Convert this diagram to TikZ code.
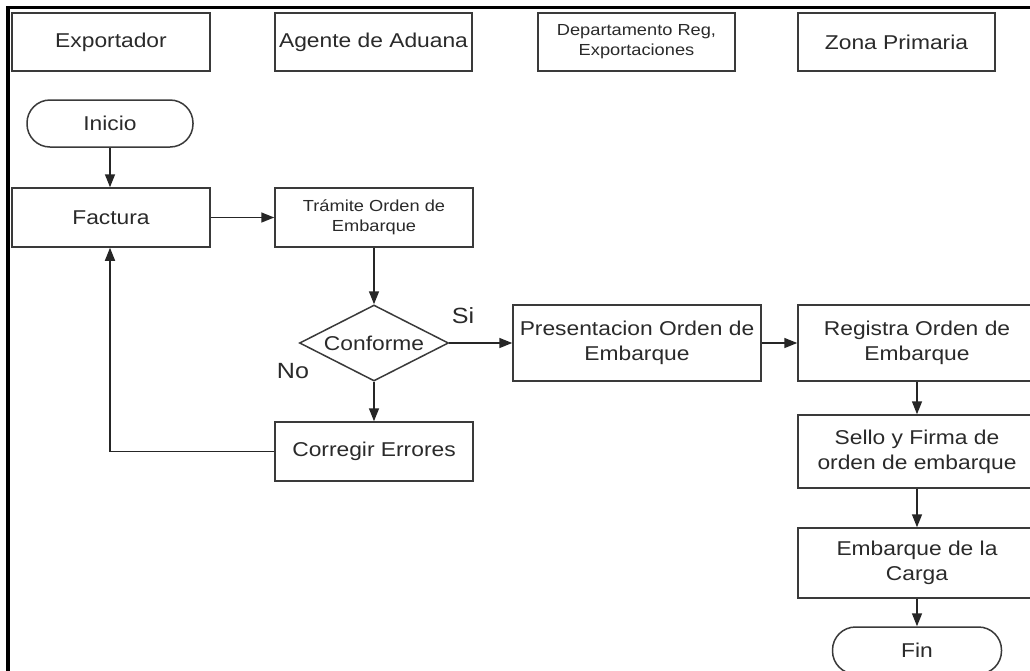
\documentclass[tikz,border=0pt]{standalone}
\usepackage{fontspec}
\setmainfont{Liberation Sans}[FakeStretch=1.14]
\usetikzlibrary{arrows.meta,shapes.geometric}
\newcommand\fsbig{\fontsize{20}{25}\selectfont}
\newcommand\fssmall{\fontsize{16}{20}\selectfont}
\newcommand\fslabel{\fontsize{22}{26}\selectfont}
\definecolor{edgegray}{HTML}{3A3A3A}
\definecolor{textgray}{HTML}{2A2A2A}
\begin{document}
\begin{tikzpicture}[x=1pt,y=-1pt,
  box/.style={draw=edgegray, line width=1.5pt, fill=white, inner sep=0pt,
    align=center, text=textgray, font=\fsbig},
  pill/.style={box, rounded corners=23pt},
  decision/.style={box, diamond, aspect=2},
  flow/.style={draw=black!85, line width=1.5pt, -{Triangle[length=13pt,width=10pt]}},
  tag/.style={text=textgray, font=\fslabel, inner sep=0pt}]
\clip (0,0) rectangle (1030,670);
\fill[white] (0,0) rectangle (1030,670);

% frame
\draw[line width=3.5pt, line join=miter] (8,672) -- (8,7.5) -- (1032,7.5);

% lane headers
\node[box, minimum width=198pt, minimum height=58pt] (hexp) at (111,42) {Exportador};
\node[box, minimum width=197pt, minimum height=58pt] (hage) at (373.5,42) {Agente de Aduana};
\node[box, minimum width=197pt, minimum height=58pt, font=\fssmall] (hdep) at (636.5,42) {Departamento Reg,\\Exportaciones};
\node[box, minimum width=197pt, minimum height=58pt] (hzon) at (896.5,42) {Zona Primaria};

% steps
\node[pill, minimum width=166pt, minimum height=47pt] (inicio) at (110,123.5) {Inicio};
\node[box, minimum width=198pt, minimum height=59pt] (factura) at (111,217.5) {Factura};
\node[box, minimum width=198pt, minimum height=59pt, font=\fssmall] (tramite) at (374,217.5) {Trámite Orden de\\Embarque};
\node[decision, minimum width=149pt, minimum height=76pt] (conforme) at (374,343) {Conforme};
\node[box, minimum width=198pt, minimum height=59pt] (corregir) at (374,451.5) {Corregir Errores};
\node[box, minimum width=248pt, minimum height=76pt] (present) at (637,343) {Presentacion Orden de\\Embarque};
\node[box, minimum width=238pt, minimum height=76pt] (registra) at (917,343) {Registra Orden de\\Embarque};
\node[box, minimum width=238pt, minimum height=73pt] (sello) at (917,451.5) {Sello y Firma de\\orden de embarque};
\node[box, minimum width=238pt, minimum height=70pt] (embarque) at (917,563) {Embarque de la\\Carga};
\node[pill, minimum width=169pt, minimum height=47pt] (fin) at (917,650.5) {Fin};

% branch labels
\node[tag] (si) at (463,316) {Si};
\node[tag] (no) at (293,371) {No};

% connectors
\draw[flow] (inicio.south) -- (inicio.south |- factura.north);
\draw[flow] (factura.east) -- (tramite.west);
\draw[flow] (tramite.south) -- (conforme.north);
\draw[flow] (conforme.east) -- (present.west);
\draw[flow] (conforme.south) -- (corregir.north);
\draw[flow] (corregir.west) -| ([xshift=-1pt]factura.south);
\draw[flow] (present.east) -- (registra.west);
\draw[flow] (registra.south) -- (sello.north);
\draw[flow] (sello.south) -- (embarque.north);
\draw[flow] (embarque.south) -- (fin.north);
\end{tikzpicture}
\end{document}
